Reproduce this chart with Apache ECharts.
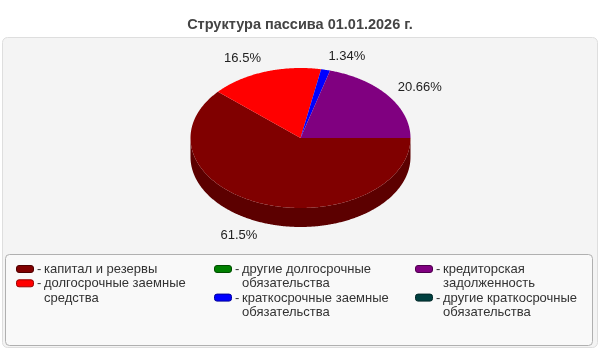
<!DOCTYPE html>
<html><head><meta charset="utf-8">
<script src="https://cdn.jsdelivr.net/npm/echarts@6/dist/echarts.min.js"></script>
<style>html,body{margin:0;padding:0;background:#fff}#c{width:600px;height:350px}</style>
</head><body><div id="c"></div>
<script>
const title = 'Структура пассива 01.01.2026 г.';
const categories = ['капитал и резервы','долгосрочные заемные средства','другие долгосрочные обязательства','краткосрочные заемные обязательства','кредиторская задолженность','другие краткосрочные обязательства'];
const values = [61.5, 16.5, 0, 1.34, 20.66, 0];
const colors = ['#800000','#ff0000','#008000','#0000ff','#800080','#004040'];

const FONT = '"Liberation Sans", Arial, sans-serif';
const CX = 300.5, CY = 138, RX = 110, RY = 70, DEPTH = 19;
const total = values.reduce((a,b)=>a+b,0);
const starts = []; let acc = 0;
values.forEach(v => { starts.push(acc); acc += v; });

function shade(hex, f){
  const n = parseInt(hex.slice(1),16);
  const r = Math.round(((n>>16)&255)*f), g = Math.round(((n>>8)&255)*f), b = Math.round((n&255)*f);
  return 'rgb('+r+','+g+','+b+')';
}
function pt(deg, dy){ const a = deg*Math.PI/180; return [CX+RX*Math.cos(a), CY+RY*Math.sin(a)+(dy||0)]; }

function renderItem(params, api){
  const i = params.dataIndex;
  const v = api.value(0);
  const a1 = starts[i]/total*360, a2 = (starts[i]+v)/total*360;
  const children = [];
  if (v <= 0) return {type:'group', children};
  const color = colors[i];
  const s = Math.max(a1, 0), e = Math.min(a2, 180);
  if (e > s) {
    const top = [], bot = [];
    for (let d = s; d <= e; d += 0.5) { top.push(pt(d)); bot.push(pt(d, DEPTH)); }
    top.push(pt(e)); bot.push(pt(e, DEPTH));
    children.push({type:'polygon', z2:1, shape:{points: top.concat(bot.reverse())}, style:{fill: shade(color, 0.72)}});
  }
  const pts = [[CX, CY]];
  for (let d = a1; d < a2; d += 0.5) pts.push(pt(d));
  pts.push(pt(a2));
  children.push({type:'polygon', z2:10+i, shape:{points: pts}, style:{fill: color}});
  const mid = (a1+a2)/2*Math.PI/180;
  const sn = Math.sin(mid), cs = Math.cos(mid);
  const lx = CX + (RX+12)*cs;
  const ly = CY + (RY+14)*sn + (sn > 0 ? DEPTH : 0);
  children.push({type:'text', z2:50, style:{x: lx, y: ly, text: (+v.toFixed(2))+'%', align: cs >= 0 ? 'left' : 'right', verticalAlign:'middle', fill:'#222', font:'13px '+FONT}});
  return {type:'group', children};
}

const measure = document.createElement('canvas').getContext('2d');
measure.font = '13px ' + FONT;
function wrap(text, w){
  const words = text.split(' '); const lines = []; let cur = '';
  words.forEach(wd => { const t = cur ? cur+' '+wd : wd; if (cur && measure.measureText(t).width > w) { lines.push(cur); cur = wd; } else cur = t; });
  if (cur) lines.push(cur); return lines;
}
const legendGraphic = [];
const COLX = [16, 214, 415], PER_COL = 2, LINE_H = 14.3, Y0 = 269.5, TEXT_W = 165;
const colY = COLX.map(()=>Y0);
categories.forEach((name, i) => {
  const c = Math.floor(i / PER_COL);
  const x = COLX[c], y = colY[c];
  legendGraphic.push({type:'rect', shape:{x:x+0.5, y:y-4, width:17, height:7, r:2.5}, style:{fill: colors[i], stroke: shade(colors[i],0.6), lineWidth:1}, z:10});
  legendGraphic.push({type:'text', style:{x:x+21, y:y, text:'-', fill:'#333', font:'13px '+FONT, verticalAlign:'middle'}, z:10});
  const lines = wrap(name, TEXT_W);
  lines.forEach((ln, k) => {
    legendGraphic.push({type:'text', style:{x:x+28, y:y+k*LINE_H, text:ln, fill:'#333', font:'13px '+FONT, verticalAlign:'middle'}, z:10});
  });
  colY[c] += lines.length*LINE_H;
});

const chart = echarts.init(document.getElementById('c'), null, {renderer:'canvas'});
chart.setOption({
  animation:false,
  backgroundColor:'#ffffff',
  title:{text:title, left:'center', top:12, textStyle:{fontFamily:FONT, fontSize:14.5, fontWeight:'bold', color:'#444'}},
  graphic:[
    {type:'rect', z:-10, shape:{x:2.5, y:37.5, width:595, height:310, r:5}, style:{fill:'#f4f4f4', stroke:'#dedede', lineWidth:1}},
    {type:'rect', z:-5, shape:{x:5.5, y:254.5, width:587, height:91, r:4}, style:{fill:'#f9f9f9', stroke:'#b0b0b0', lineWidth:1}}
  ].concat(legendGraphic),
  series:[{type:'custom', coordinateSystem:'none', renderItem:renderItem, data: values.map(v=>[v]), z:5}]
});
</script></body></html>
